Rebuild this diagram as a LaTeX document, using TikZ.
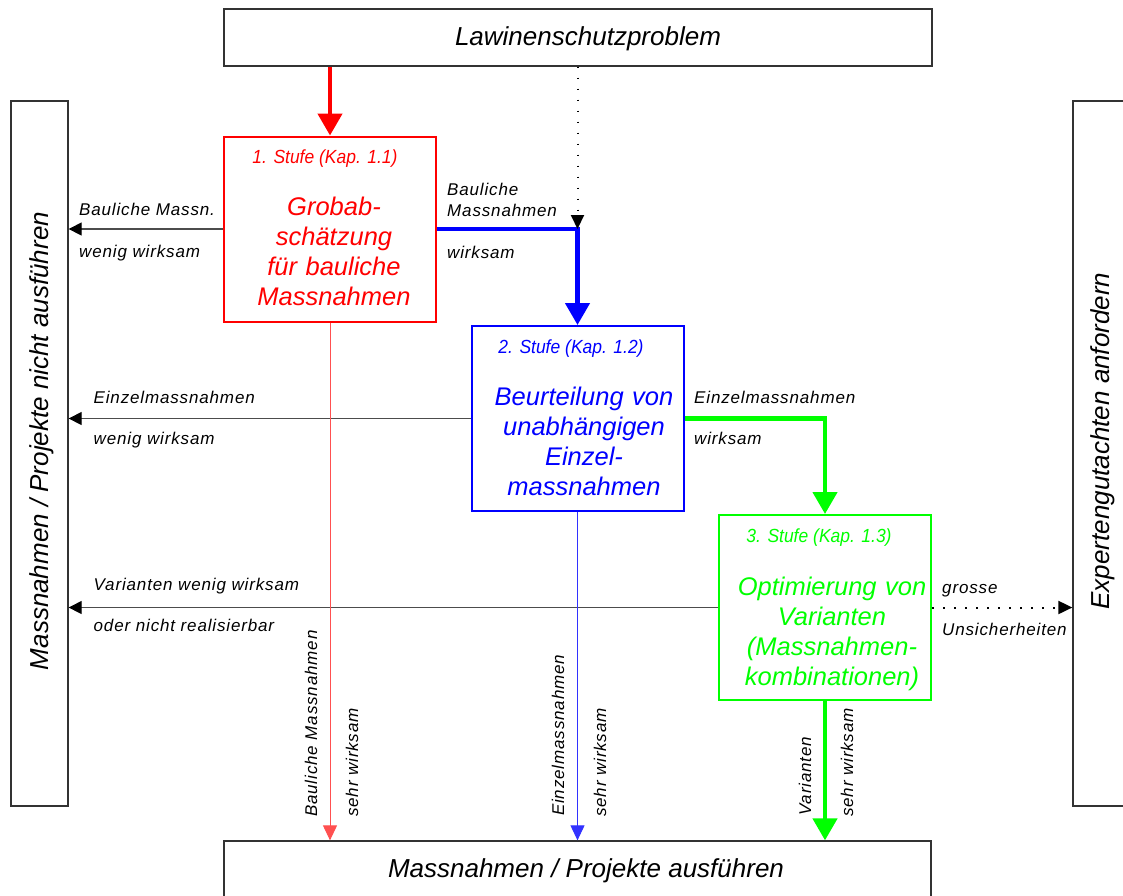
\documentclass[tikz,border=0pt]{standalone}
\usepackage{fontspec}
\setmainfont{Liberation Sans}
\newfontfamily\lblfont[LetterSpace=5]{Liberation Sans}
\newfontfamily\ttlfont[FakeStretch=0.92]{Liberation Sans}
\usetikzlibrary{arrows.meta}
\definecolor{pred}{RGB}{255,0,0}
\definecolor{pblue}{RGB}{0,0,255}
\definecolor{pgreen}{RGB}{0,255,0}
\definecolor{lred}{RGB}{255,80,80}
\definecolor{lblue}{RGB}{50,50,255}
\begin{document}
\begin{tikzpicture}[x=1pt,y=-1pt,
 box/.style={draw=black!80, line width=1.3pt, rectangle, inner sep=0pt},
 stagebox/.style={rectangle, line width=2pt, inner sep=0pt, minimum width=212pt, minimum height=185pt},
 lbl/.style={font=\lblfont\itshape\fontsize{17}{19}\selectfont, inner sep=0pt, text=black},
 ttl/.style={font=\ttlfont\itshape\fontsize{19}{22}\selectfont, inner sep=0pt, anchor=base},
 maintxt/.style={font=\itshape\fontsize{25.5}{30}\selectfont, inner sep=0pt, anchor=base, text width=210pt, align=center},
 big/.style={font=\itshape\fontsize{26}{30}\selectfont, inner sep=0pt, anchor=base},
 thinarrow/.style={draw=black!70, line width=1.2pt, -{Triangle[length=13pt,width=13pt,color=black]}},
 fatarrow/.style={line width=4.5pt, -{Triangle[length=22pt,width=24pt]}},
 dotarrow/.style={draw=black, line width=2pt, dash pattern=on 1.8pt off 9.2pt, -{Triangle[length=14pt,width=13pt]}},
 vthin/.style={line width=1pt, -{Triangle[length=15pt,width=14pt]}},
]
\useasboundingbox (0,0) rectangle (1123,895);
\clip (0,0) rectangle (1123,895);
\fill[white] (0,0) rectangle (1123,895);

% frame boxes
\node[box, minimum width=708pt, minimum height=57pt] (top) at (578,37.5) {};
\node[box, minimum width=57pt, minimum height=705pt] (left) at (39.5,453.5) {};
\node[box, minimum width=67pt, minimum height=705pt] (right) at (1106.5,453.5) {};
\node[box, minimum width=707pt, minimum height=69pt] (bottom) at (577.5,875.5) {};

% stage boxes
\node[stagebox, draw=pred] (s1) at (330,229) {};
\node[stagebox, draw=pblue] (s2) at (577.5,418.5) {};
\node[stagebox, draw=pgreen] (s3) at (825,607.5) {};

% texts in frame boxes
\node[big] (ttop) at (588,45) {Lawinenschutzproblem};
\node[big] (tbottom) at (586,877) {Massnahmen / Projekte ausführen};
\node[big, rotate=90] (tleft) at (48,441) {Massnahmen / Projekte nicht ausführen};
\node[big, rotate=90] (tright) at (1109,441) {Expertengutachten anfordern};

% texts in stage boxes
\node[ttl, text=pred] (t1) at (325,163) {1. Stufe (Kap. 1.1)};
\node[maintxt, text=pred] (m1) at (334,215) {Grobab-\\schätzung\\für bauliche\\Massnahmen};
\node[ttl, text=pblue] (t2) at (571,353) {2. Stufe (Kap. 1.2)};
\node[maintxt, text=pblue] (m2) at (584,405) {Beurteilung von\\unabhängigen\\Einzel-\\massnahmen};
\node[ttl, text=pgreen] (t3) at (819,542.5) {3. Stufe (Kap. 1.3)};
\node[maintxt, text=pgreen] (m3) at (832,595) {Optimierung von\\Varianten\\(Massnahmen-\\kombinationen)};

% connectors
\coordinate (c1) at (s1.east -| s2.north);
\coordinate (c2) at (s2.east -| s3.north);
\draw[fatarrow, pred] (top.south -| s1.north) -- (s1.north);
\draw[fatarrow, pblue] (s1.east) -- (c1) -- (s2.north);
\draw[dotarrow] (top.south -| s2.north) -- (c1);
\draw[fatarrow, pgreen] (s2.east) -- (c2) -- (s3.north);
\draw[thinarrow] (s1.west) -- (s1.west -| left.east);
\draw[thinarrow] (s2.west) -- (s2.west -| left.east);
\draw[thinarrow] (s3.west) -- (s3.west -| left.east);
\draw[dotarrow] (s3.east) -- (s3.east -| right.west);
\draw[vthin, lred] (s1.south) -- (s1.south |- bottom.north);
\draw[vthin, lblue] (s2.south) -- (s2.south |- bottom.north);
\draw[fatarrow, pgreen] (s3.south) -- (s3.south |- bottom.north);

% connector labels
\node[lbl, anchor=base west] (l1a) at (79,215) {Bauliche Massn.};
\node[lbl, anchor=base west] (l1b) at (79,257) {wenig wirksam};
\node[lbl, anchor=base west] (l2a) at (447,195) {Bauliche};
\node[lbl, anchor=base west] (l2b) at (447,216) {Massnahmen};
\node[lbl, anchor=base west] (l2c) at (447,258) {wirksam};
\node[lbl, anchor=base west] (l3a) at (93.5,403) {Einzelmassnahmen};
\node[lbl, anchor=base west] (l3b) at (93.5,444) {wenig wirksam};
\node[lbl, anchor=base west] (l4a) at (694,403) {Einzelmassnahmen};
\node[lbl, anchor=base west] (l4b) at (694,444) {wirksam};
\node[lbl, anchor=base west] (l5a) at (93.5,590) {Varianten wenig wirksam};
\node[lbl, anchor=base west] (l5b) at (93.5,631) {oder nicht realisierbar};
\node[lbl, anchor=base west] (l6a) at (942,593) {grosse};
\node[lbl, anchor=base west] (l6b) at (942,635) {Unsicherheiten};

% vertical labels
\node[lbl, rotate=90, anchor=base west] (v1a) at (317,817) {Bauliche Massnahmen};
\node[lbl, rotate=90, anchor=base west] (v1b) at (358,817) {sehr wirksam};
\node[lbl, rotate=90, anchor=base west] (v2a) at (564,816) {Einzelmassnahmen};
\node[lbl, rotate=90, anchor=base west] (v2b) at (606,817) {sehr wirksam};
\node[lbl, rotate=90, anchor=base west] (v3a) at (811,816) {Varianten};
\node[lbl, rotate=90, anchor=base west] (v3b) at (853,817) {sehr wirksam};
\end{tikzpicture}
\end{document}
